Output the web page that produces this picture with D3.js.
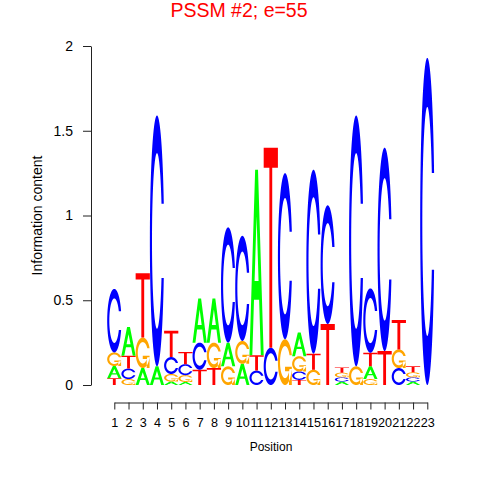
<!DOCTYPE html>
<html>
<head>
<meta charset="utf-8">
<script src="https://cdn.jsdelivr.net/npm/d3@7"></script>
<style>
  body { margin: 0; background: white; }
  text { font-family: "Liberation Sans", Arial, sans-serif; }
</style>
</head>
<body>
<div id="chart"></div>
<script>
// information content per letter, positions 1..23
const positions = d3.range(1, 24)
const heightsA = [0.072, 0.17, 0.10, 0.11, 0.02, 0.018, 0.26, 0.26, 0.14, 0.125, 1.095, 0, 0, 0.14, 0, 0, 0.02, 0, 0.075, 0, 0, 0.02, 0]
const heightsC = [0.375, 0.062, 0, 1.48, 0.10, 0.065, 0.16, 0, 0.68, 0.62, 0.085, 0.22, 0.98, 0.05, 1.085, 0.70, 0.025, 1.48, 0.38, 1.20, 0.10, 0.025, 1.93]
const heightsG = [0.08, 0.035, 0.18, 0, 0.045, 0.04, 0, 0.15, 0.11, 0.135, 0, 0, 0.27, 0.09, 0.09, 0, 0.028, 0.11, 0.035, 0, 0.11, 0.03, 0]
const heightsT = [0.04, 0.075, 0.38, 0, 0.155, 0.072, 0.09, 0.10, 0, 0, 0.09, 1.18, 0, 0.03, 0.095, 0.36, 0.03, 0, 0.08, 0.20, 0.173, 0.035, 0]
const yTicks = [0, 0.5, 1, 1.5, 2]
const letterColors = { A: "#00ff00", C: "#0000ff", G: "#ffa500", T: "#ff0000" }

const width = 480, height = 480

const svg = d3.select("#chart").append("svg")
    .attr("width", width)
    .attr("height", height)

const x = d3.scaleLinear().domain([1, 23]).range([114.3, 427.3])
const y = d3.scaleLinear().domain([0, 2]).range([385, 46])

// letter outlines in a unit box, y pointing up
let linspace = function (a, b, n) {
    return d3.range(n).map(i => a + (b - a) * i / (n - 1))
}

let cOutline = function () {
    let a1 = linspace(0.3 + Math.PI / 2, Math.PI, 100)
    let a2 = linspace(Math.PI, 1.5 * Math.PI, 100)
    let xl = a1.concat(a2).map(a => 0.5 + 0.5 * Math.sin(a))
    let yl = a1.concat(a2).map(a => 0.5 + 0.5 * Math.cos(a))
    let maxY1 = d3.max(a1.map(a => 0.5 + 0.5 * Math.cos(a)))
    let ox = xl.concat(xl.slice().reverse())
    let oy = yl.concat(yl.slice().reverse().map(v => 1 - v))

    let xi1 = [], yi1 = []
    a1.forEach(function (a) {
        let yy = 0.5 + 0.35 * Math.cos(a)
        if (yy <= maxY1) { xi1.push(0.5 + 0.35 * Math.sin(a)); yi1.push(yy) }
    })
    yi1[0] = maxY1
    let xi = xi1.concat(a2.map(a => 0.5 + 0.35 * Math.sin(a)))
    let yi = yi1.concat(a2.map(a => 0.5 + 0.35 * Math.cos(a)))
    let ix = xi.concat(xi.slice().reverse())
    let iy = yi.concat(yi.slice().reverse().map(v => 1 - v))

    let pts = ox.map((v, i) => [v, oy[i]])
    let inner = ix.map((v, i) => [v, iy[i]]).reverse()
    return { pts: pts.concat(inner), r1: d3.max(a1.map(a => 0.5 + 0.5 * Math.sin(a))) }
}

const cShape = cOutline()
const shapes = {
    A: [
        [[0, 0], [0.4, 1], [0.6, 1], [1, 0], [0.8, 0], [0.68, 0.3], [0.32, 0.3], [0.2, 0]],
        [[0.36, 0.4], [0.5, 0.75], [0.64, 0.4]]
    ],
    C: [cShape.pts],
    G: [cShape.pts, [[cShape.r1, 0.4], [0.5, 0.4], [0.5, 0.3], [cShape.r1 - 0.2, 0.3], [cShape.r1 - 0.2, 0], [cShape.r1, 0]]],
    T: [[[0, 1], [1, 1], [1, 0.9], [0.6, 0.9], [0.6, 0], [0.4, 0], [0.4, 0.9], [0, 0.9]]]
}

let letterPath = function (letter, pos, base, h) {
    let x0 = x(pos - 0.5), x1 = x(pos + 0.5)
    return shapes[letter].map(function (poly) {
        return "M" + poly.map(p => (x0 + p[0] * (x1 - x0)).toFixed(2) + "," + y(base + p[1] * h).toFixed(2)).join("L") + "Z"
    }).join("")
}

// stack letters, smallest at the bottom
let stacks = []
positions.forEach(function (pos, i) {
    let col = [
        { letter: "A", h: heightsA[i] },
        { letter: "C", h: heightsC[i] },
        { letter: "G", h: heightsG[i] },
        { letter: "T", h: heightsT[i] }
    ].filter(d => d.h > 0).sort((a, b) => a.h - b.h)
    let base = 0
    col.forEach(function (d) {
        stacks.push({ letter: d.letter, pos: pos, base: base, h: d.h })
        base += d.h
    })
})

svg.append("g")
    .selectAll("path")
    .data(stacks)
    .join("path")
    .attr("d", d => letterPath(d.letter, d.pos, d.base, d.h))
    .attr("fill", d => letterColors[d.letter])
    .attr("fill-rule", "evenodd")

// axes
const yAxis = svg.append("g")
    .attr("transform", "translate(91,0)")
    .call(d3.axisLeft(y).tickValues(yTicks).tickFormat(d => String(d)).tickSize(8).tickSizeOuter(0).tickPadding(10))
yAxis.selectAll("text").attr("font-size", 14).attr("font-family", "Liberation Sans, Arial, sans-serif").attr("fill", "black")

const xAxis = svg.append("g")
    .attr("transform", "translate(0,402.5)")
    .call(d3.axisBottom(x).tickValues(positions).tickFormat(d => String(d)).tickSize(7).tickSizeOuter(0).tickPadding(8.5))
xAxis.selectAll("text").attr("font-size", 12.6).attr("font-family", "Liberation Sans, Arial, sans-serif").attr("fill", "black")

svg.selectAll(".domain, .tick line").attr("stroke", "#222")

svg.append("text")
    .attr("x", 271)
    .attr("y", 450.5)
    .attr("text-anchor", "middle")
    .attr("font-size", 12)
    .text("Position")

svg.append("text")
    .attr("transform", "translate(42,215.5) rotate(-90)")
    .attr("text-anchor", "middle")
    .attr("font-size", 14)
    .text("Information content")

svg.append("text")
    .attr("x", 239)
    .attr("y", 17)
    .attr("text-anchor", "middle")
    .attr("font-size", 19.5)
    .attr("fill", "#ff0000")
    .text("PSSM #2; e=55")
</script>
</body>
</html>
